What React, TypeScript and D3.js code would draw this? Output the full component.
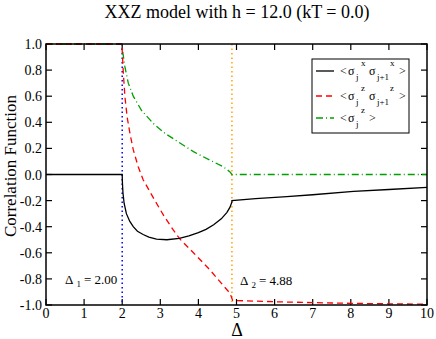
import React from "react";
import * as d3 from "d3";

const xxX = [0, 2, 2.005, 2.02, 2.05, 2.11, 2.2, 2.29, 2.4, 2.55, 2.7, 2.9, 3.17, 3.5, 3.75, 4.0, 4.2, 4.4, 4.6, 4.75, 4.83, 4.88, 4.88, 5.5, 6.32, 7, 8.07, 9, 10];
const xxY = [0, 0, -0.06, -0.14, -0.22, -0.3, -0.36, -0.4, -0.435, -0.46, -0.48, -0.495, -0.5, -0.49, -0.47, -0.445, -0.42, -0.385, -0.34, -0.29, -0.25, -0.21, -0.2, -0.185, -0.17, -0.155, -0.13, -0.115, -0.098];

const zzX = [0, 2, 2, 2.03, 2.07, 2.13, 2.2, 2.29, 2.42, 2.55, 2.8, 3.1, 3.34, 3.5, 3.87, 4.3, 4.65, 4.83, 4.88, 4.9, 6, 7, 8, 9, 10];
const zzY = [1, 1, 0.95, 0.775, 0.6, 0.44, 0.32, 0.19, 0.06, -0.04, -0.17, -0.32, -0.425, -0.49, -0.6, -0.73, -0.85, -0.91, -0.95, -0.965, -0.975, -0.982, -0.987, -0.991, -0.994];

const zX = [0, 2, 2, 2.07, 2.16, 2.29, 2.51, 2.82, 3.12, 3.47, 3.87, 4.3, 4.65, 4.83, 4.88, 10];
const zY = [1, 1, 0.97, 0.826, 0.7, 0.6, 0.49, 0.39, 0.316, 0.25, 0.175, 0.11, 0.06, 0.02, 0.0, 0.0];

const xTicks = [0, 1, 2, 3, 4, 5, 6, 7, 8, 9, 10];
const yTicks = [1.0, 0.8, 0.6, 0.4, 0.2, 0.0, -0.2, -0.4, -0.6, -0.8, -1.0];
const delta1 = 2.0;
const delta2 = 4.88;

const W = 436, H = 339;
const L = 46, R = 427, T = 44, B = 305;
const FONT = "Liberation Serif";

export default function App() {
  const x = d3.scaleLinear().domain([0, 10]).range([L, R]);
  const y = d3.scaleLinear().domain([-1, 1]).range([B, T]);
  const line = d3.line<[number, number]>().x(d => x(d[0])).y(d => y(d[1]));
  const mk = (xs: number[], ys: number[]) => xs.map((v, i) => [v, ys[i]] as [number, number]);
  const tl = 6;
  return (
    <svg width={W} height={H} style={{ position: "absolute", left: 0, top: 0, background: "#fff" }} fontFamily={FONT}>
      <rect x={0} y={0} width={W} height={H} fill="#fff" />
      <text x={237} y={18} fontSize={18} textAnchor="middle">XXZ model with h = 12.0 (kT = 0.0)</text>
      {/* ticks */}
      {xTicks.map(t => (
        <g key={"x" + t}>
          <line x1={x(t)} x2={x(t)} y1={B} y2={B - tl} stroke="#000" strokeWidth={1.2} />
          <line x1={x(t)} x2={x(t)} y1={T} y2={T + tl} stroke="#000" strokeWidth={1.2} />
          <text x={x(t)} y={318} fontSize={14} textAnchor="middle">{t}</text>
        </g>
      ))}
      {yTicks.map(t => (
        <g key={"y" + t}>
          <line x1={L} x2={L + tl} y1={y(t)} y2={y(t)} stroke="#000" strokeWidth={1.2} />
          <line x1={R} x2={R - tl} y1={y(t)} y2={y(t)} stroke="#000" strokeWidth={1.2} />
          <text x={42} y={y(t) + 5} fontSize={14} textAnchor="end">{t.toFixed(1)}</text>
        </g>
      ))}
      {/* vertical markers */}
      <line x1={x(delta1)} x2={x(delta1)} y1={T} y2={B} stroke="#0000ff" strokeWidth={1.5} strokeDasharray="1.5,3" />
      <line x1={x(delta2)} x2={x(delta2)} y1={T} y2={B} stroke="#ffa500" strokeWidth={1.5} strokeDasharray="1.5,3" />
      {/* series */}
      <path d={line(mk(zX, zY)) || ""} fill="none" stroke="#00a000" strokeWidth={1.3} strokeDasharray="7,3,1,3" />
      <path d={line(mk(zzX, zzY)) || ""} fill="none" stroke="#ff0000" strokeWidth={1.3} strokeDasharray="6,4" />
      <path d={line(mk(xxX, xxY)) || ""} fill="none" stroke="#000" strokeWidth={1.3} />
      {/* frame */}
      <rect x={L} y={T} width={R - L} height={B - T} fill="none" stroke="#000" strokeWidth={1.5} />
      {/* annotations */}
      <text x={65} y={284} fontSize={13}>Δ<tspan dx={3} dy={3} fontSize={9}>1</tspan><tspan dy={-3} dx={3}>= 2.00</tspan></text>
      <text x={240} y={285} fontSize={13}>Δ<tspan dx={3} dy={3} fontSize={9}>2</tspan><tspan dy={-3} dx={3}>= 4.88</tspan></text>
      {/* axis labels */}
      <text x={237} y={336} fontSize={18} textAnchor="middle">Δ</text>
      <text transform="translate(16,166) rotate(-90)" fontSize={17} textAnchor="middle">Correlation Function</text>
      {/* legend */}
      <rect x={312} y={59} width={97} height={74} fill="#fff" stroke="#000" strokeWidth={1} />
      <line x1={316} x2={334} y1={71} y2={71} stroke="#000" strokeWidth={1.3} />
      <line x1={316} x2={334} y1={96} y2={96} stroke="#ff0000" strokeWidth={1.3} strokeDasharray="6,4" />
      <line x1={316} x2={334} y1={118} y2={118} stroke="#00a000" strokeWidth={1.3} strokeDasharray="7,3,1,3" />
      <g fontSize={12}>
        <text x={340} y={75}>&lt;</text>
        <text x={348} y={75}>σ</text>
        <text x={356} y={80} fontSize={9}>j</text>
        <text x={361} y={66} fontSize={9}>x</text>
        <text x={369} y={75}>σ</text>
        <text x={377} y={80} fontSize={9}>j+1</text>
        <text x={390} y={66} fontSize={9}>x</text>
        <text x={399} y={75}>&gt;</text>

        <text x={340} y={100}>&lt;</text>
        <text x={348} y={100}>σ</text>
        <text x={356} y={105} fontSize={9}>j</text>
        <text x={361} y={91} fontSize={9}>z</text>
        <text x={369} y={100}>σ</text>
        <text x={377} y={105} fontSize={9}>j+1</text>
        <text x={390} y={91} fontSize={9}>z</text>
        <text x={399} y={100}>&gt;</text>

        <text x={340} y={122}>&lt;</text>
        <text x={348} y={122}>σ</text>
        <text x={356} y={127} fontSize={9}>j</text>
        <text x={361} y={113} fontSize={9}>z</text>
        <text x={369} y={122}>&gt;</text>
      </g>
    </svg>
  );
}
